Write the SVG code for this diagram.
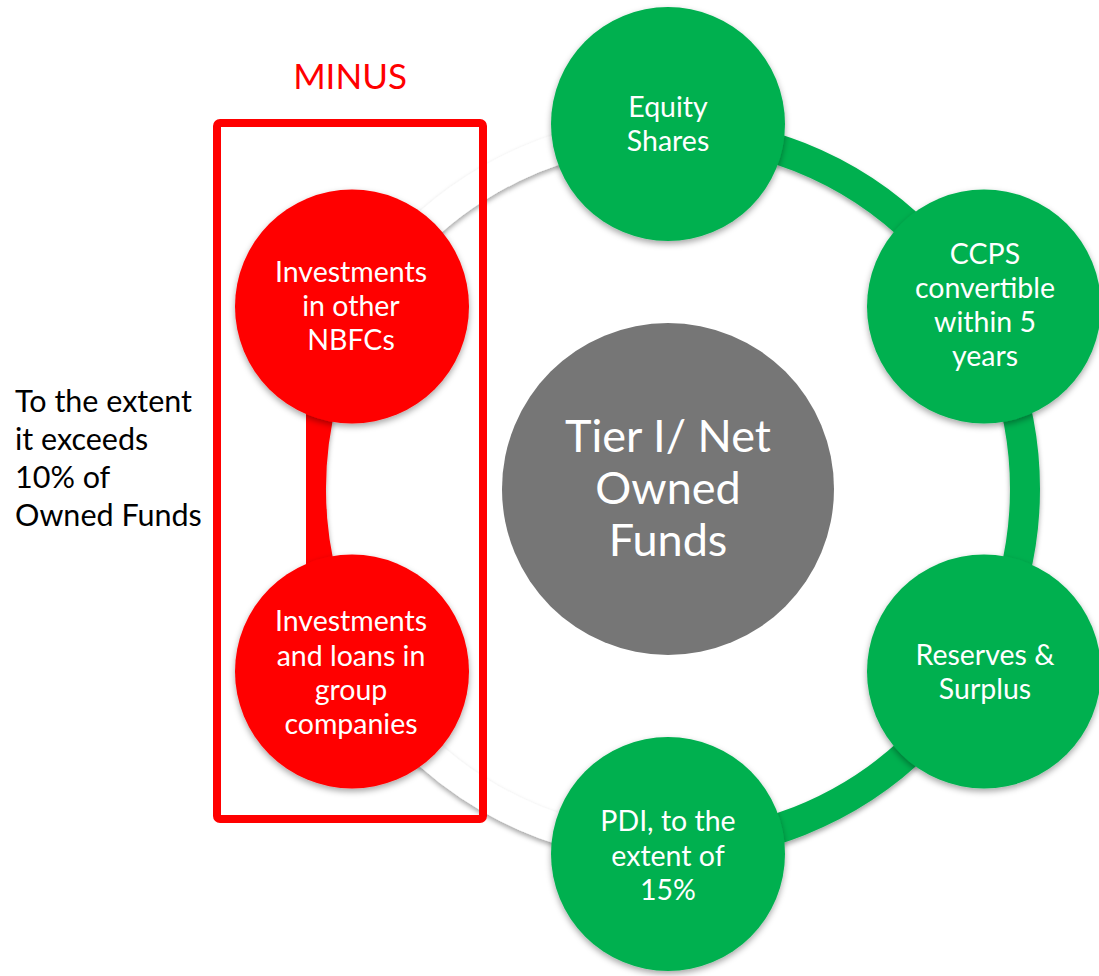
<svg xmlns="http://www.w3.org/2000/svg" width="1099" height="976" viewBox="0 0 1099 976">
  <defs>
    <filter id="shadow" x="-20%" y="-20%" width="140%" height="140%">
      <feDropShadow dx="0" dy="3" stdDeviation="3" flood-color="#000" flood-opacity="0.35"/>
    </filter>
    <filter id="ringShadow" x="-10%" y="-10%" width="120%" height="120%">
      <feDropShadow dx="0" dy="3" stdDeviation="2.5" flood-color="#000" flood-opacity="0.35"/>
    </filter>
    <style>
      text { font-family: Lato, "Open Sans", "Liberation Sans", sans-serif; text-anchor: middle; }
      .lbl { fill: #ffffff; font-size: 28.5px; }
      .big { fill: #ffffff; font-size: 45px; }
      .note { fill: #000000; font-size: 30.5px; text-anchor: start; }
      .green { fill: #00B050; filter: url(#shadow); }
      .red { fill: #FF0000; filter: url(#shadow); }
      .ring { fill: none; stroke-width: 30; }
    </style>
  </defs>

  <rect width="1099" height="976" fill="#ffffff"/>

  <!-- ring segments joining the outer circles -->
  <g id="connectors">
    <path class="ring" stroke="#ffffff" filter="url(#ringShadow)" d="M 358.8,310.5 A 357 357 0 0 1 668,132"/>
    <path class="ring" stroke="#ffffff" filter="url(#ringShadow)" d="M 668,846 A 357 357 0 0 1 358.8,667.5"/>
    <path class="ring" stroke="#00B050" filter="url(#ringShadow)" d="M 668,132 A 357 357 0 0 1 668,846"/>
    <path class="ring" stroke="#FF0000" filter="url(#ringShadow)" d="M 358.8,667.5 A 357 357 0 0 1 358.8,310.5"/>
  </g>

  <g id="center">
    <circle cx="668" cy="489" r="166" fill="#767676"/>
    <text class="big" x="668" y="452">Tier I/ Net</text>
    <text class="big" x="668" y="504">Owned</text>
    <text class="big" x="668" y="556">Funds</text>
  </g>

  <g id="equity">
    <circle class="green" cx="668" cy="124" r="117"/>
    <text class="lbl" x="668" y="117">Equity</text>
    <text class="lbl" x="668" y="151">Shares</text>
  </g>

  <g id="ccps">
    <circle class="green" cx="984" cy="306.5" r="117"/>
    <text class="lbl" x="985" y="264">CCPS</text>
    <text class="lbl" x="985" y="298">convertible</text>
    <text class="lbl" x="985" y="332">within 5</text>
    <text class="lbl" x="985" y="366">years</text>
  </g>

  <g id="reserves">
    <circle class="green" cx="984" cy="671.5" r="117"/>
    <text class="lbl" x="985" y="665">Reserves &amp;</text>
    <text class="lbl" x="985" y="699">Surplus</text>
  </g>

  <g id="pdi">
    <circle class="green" cx="668" cy="854" r="117"/>
    <text class="lbl" x="668" y="831">PDI, to the</text>
    <text class="lbl" x="668" y="866">extent of</text>
    <text class="lbl" x="668" y="900">15%</text>
  </g>

  <g id="nbfc">
    <circle class="red" cx="352" cy="306.5" r="117"/>
    <text class="lbl" x="351" y="282">Investments</text>
    <text class="lbl" x="351" y="316">in other</text>
    <text class="lbl" x="351" y="350">NBFCs</text>
  </g>

  <g id="group-loans">
    <circle class="red" cx="352" cy="671.5" r="117"/>
    <text class="lbl" x="351" y="631">Investments</text>
    <text class="lbl" x="351" y="666">and loans in</text>
    <text class="lbl" x="351" y="700">group</text>
    <text class="lbl" x="351" y="734">companies</text>
  </g>

  <g id="minus">
    <rect x="217" y="123" width="266" height="696" rx="3" fill="none" stroke="#FF0000" stroke-width="8"/>
    <text x="350" y="89" fill="#FF0000" font-size="35">MINUS</text>
  </g>

  <g id="note">
    <text class="note" x="15" y="412">To the extent</text>
    <text class="note" x="15" y="450">it exceeds</text>
    <text class="note" x="15" y="488">10% of</text>
    <text class="note" x="15" y="526">Owned Funds</text>
  </g>
</svg>
